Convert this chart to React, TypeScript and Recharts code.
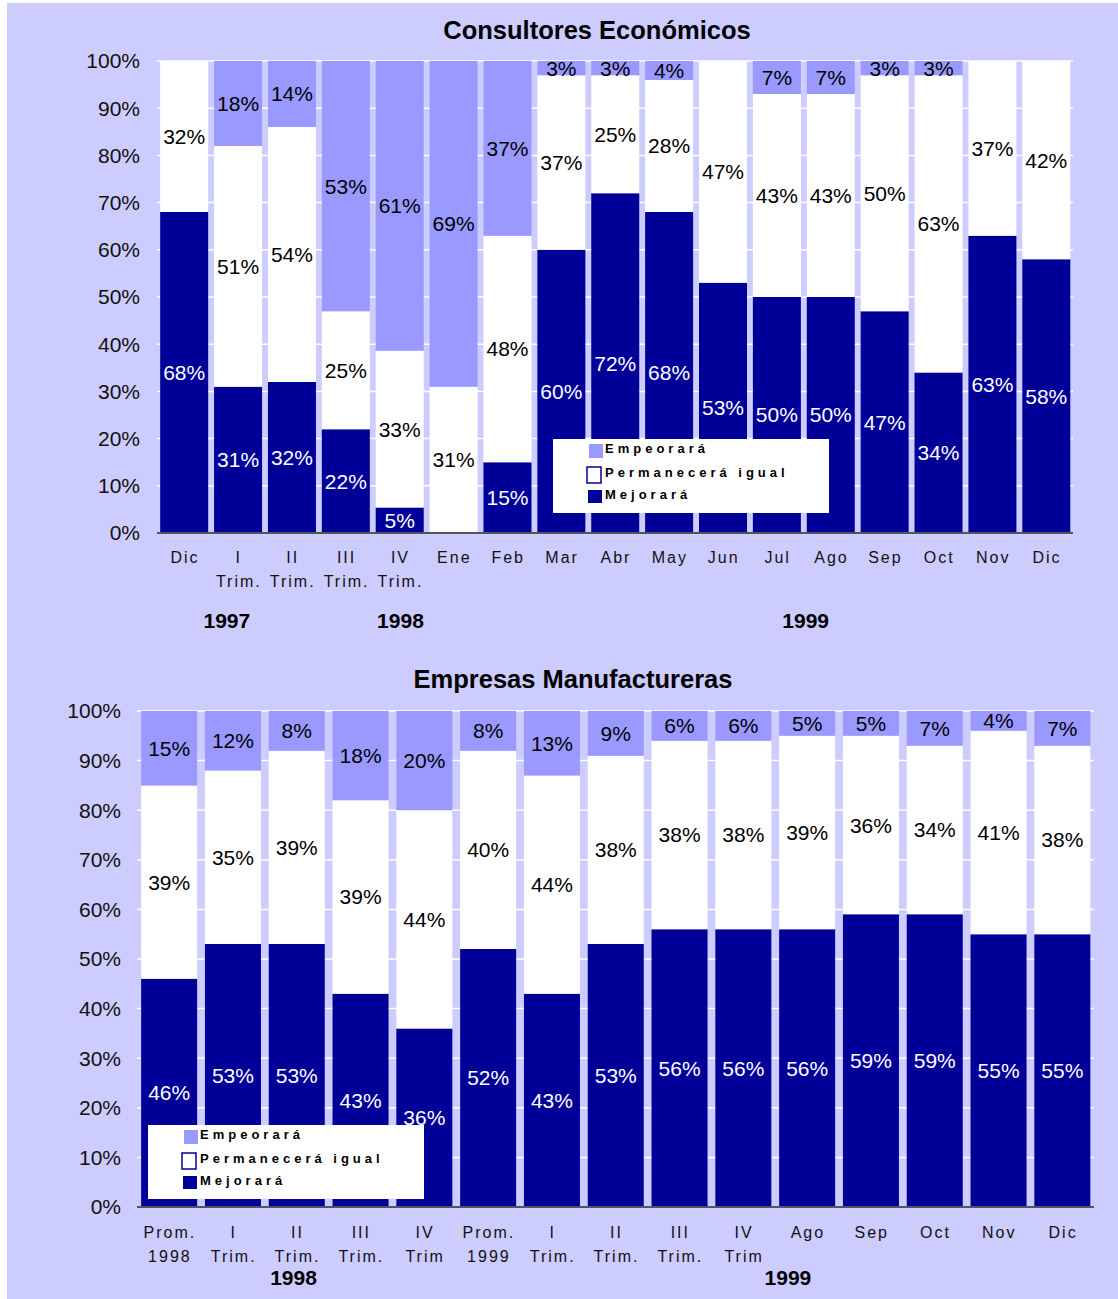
import React from 'react';
import { BarChart, Bar, XAxis, YAxis, CartesianGrid, LabelList } from 'recharts';

const FONT = '"Liberation Sans", Arial, Helvetica, sans-serif';
const NAVY = '#000099';
const LILAC = '#9999FF';
const WHITE = '#FFFFFF';
const BG = '#CCCCFF';

// ---------- data ----------
const seriesNames = ['Empeorará', 'Permanecerá igual', 'Mejorará'];

const consultoresTitle = 'Consultores Económicos';
const consultoresCategories = ['Dic', 'I\nTrim.', 'II\nTrim.', 'III\nTrim.', 'IV\nTrim.', 'Ene', 'Feb', 'Mar', 'Abr', 'May', 'Jun', 'Jul', 'Ago', 'Sep', 'Oct', 'Nov', 'Dic'];
const consultoresMejorara = [68, 31, 32, 22, 5.4, 0, 15, 60, 72, 68, 53, 50, 50, 47, 34, 63, 58];
const consultoresPermanecera = [32, 51, 54, 25, 33.2, 31, 48, 37, 25, 28, 47, 43, 43, 50, 63, 37, 42];
const consultoresEmpeorara = [0, 18, 14, 53, 61.4, 69, 37, 3, 3, 4, 0, 7, 7, 3, 3, 0, 0];
const consultoresYears = ['1997', '1998', '1999'];

const manufTitle = 'Empresas Manufactureras';
const manufCategories = ['Prom.\n1998', 'I\nTrim.', 'II\nTrim.', 'III\nTrim.', 'IV\nTrim', 'Prom.\n1999', 'I\nTrim.', 'II\nTrim.', 'III\nTrim.', 'IV\nTrim', 'Ago', 'Sep', 'Oct', 'Nov', 'Dic'];
const manufMejorara = [46, 53, 53, 43, 36, 52, 43, 53, 56, 56, 56, 59, 59, 55, 55];
const manufPermanecera = [39, 35, 39, 39, 44, 40, 44, 38, 38, 38, 39, 36, 34, 41, 38];
const manufEmpeorara = [15, 12, 8, 18, 20, 8, 13, 9, 6, 6, 5, 5, 7, 4, 7];
const manufYears = ['1998', '1999'];

const yTicks = [0, 10, 20, 30, 40, 50, 60, 70, 80, 90, 100];

// ---------- layout (positions only) ----------
const consultoresYearPos = [{ cat: 1, dx: -11 }, { cat: 4, dx: 1 }, { cat: 11, dx: 29 }];
const manufYearPos = [{ cat: 2, dx: -3 }, { cat: 10, dx: -19 }];

const buildData = (cats: string[], m: number[], p: number[], e: number[]) =>
  cats.map((c, i) => ({ key: String(i), m: m[i], p: p[i], e: e[i] }));

const consultoresData = buildData(consultoresCategories, consultoresMejorara, consultoresPermanecera, consultoresEmpeorara);
const manufData = buildData(manufCategories, manufMejorara, manufPermanecera, manufEmpeorara);

const fmt = (v: any) => (v ? `${Math.round(Number(v))}%` : '');

const makeTick = (
  labels: string[],
  years: string[],
  yearPos: { cat: number; dx: number }[],
  d1: number,
  d2: number,
  dYear: number
) => (props: any) => {
  const { x, y, payload } = props;
  const i = Number(payload.value);
  const lines = (labels[i] || '').split('\n');
  const yi = yearPos.findIndex((p) => p.cat === i);
  return (
    <g>
      {lines.map((l, k) => (
        <text
          key={k}
          x={x + 1}
          y={y + (k === 0 ? d1 : d2)}
          textAnchor="middle"
          fontFamily={FONT}
          fontSize={16}
          fill="#111"
          style={{ letterSpacing: '2px' }}
        >
          {l}
        </text>
      ))}
      {yi >= 0 && (
        <text
          x={x + yearPos[yi].dx}
          y={y + dYear}
          textAnchor="middle"
          fontFamily={FONT}
          fontSize={21}
          fontWeight="bold"
          fill="#000"
        >
          {years[yi]}
        </text>
      )}
    </g>
  );
};

const Legend = ({ x, y }: { x: number; y: number }) => {
  const colors = [LILAC, WHITE, NAVY];
  const swatches = [
    { dx: 36, dy: 5, w: 14, h: 14 },
    { dx: 34, dy: 28, w: 14, h: 16 },
    { dx: 35, dy: 51, w: 14, h: 13 },
  ];
  const baselines = [14, 38, 60];
  return (
    <g>
      <rect x={x} y={y} width={276} height={74} fill={WHITE} />
      {seriesNames.map((n, i) => (
        <g key={n}>
          <rect
            x={x + swatches[i].dx}
            y={y + swatches[i].dy}
            width={swatches[i].w}
            height={swatches[i].h}
            fill={colors[i]}
            stroke={i === 1 ? NAVY : 'none'}
            strokeWidth={1.5}
          />
          <text
            x={x + 52}
            y={y + baselines[i]}
            fontFamily={FONT}
            fontSize={13}
            fontWeight="bold"
            fill="#000"
            style={{ letterSpacing: '4px' }}
          >
            {n}
          </text>
        </g>
      ))}
    </g>
  );
};

const StackChart = ({
  data,
  width,
  height,
  margin,
  gap,
  tick,
  tickMarginY,
}: any) => (
  <BarChart width={width} height={height} data={data} margin={margin} barCategoryGap={gap}>
    <CartesianGrid horizontal vertical={false} stroke={WHITE} strokeWidth={1.5} />
    <XAxis
      dataKey="key"
      interval={0}
      tickLine={false}
      axisLine={{ stroke: '#555', strokeWidth: 2 }}
      tick={tick}
      height={80}
      tickMargin={2}
    />
    <YAxis
      domain={[0, 100]}
      ticks={yTicks}
      tickFormatter={(v: number) => `${v}%`}
      axisLine={false}
      tickLine={false}
      width={60}
      tickMargin={tickMarginY}
      tick={{ fontSize: 21, fontFamily: FONT, fill: '#111' }}
      allowDataOverflow
    />
    <Bar dataKey="m" stackId="a" fill={NAVY} isAnimationActive={false}>
      <LabelList dataKey="m" position="center" formatter={fmt} fill={WHITE} fontSize={21} fontFamily={FONT} />
    </Bar>
    <Bar dataKey="p" stackId="a" fill={WHITE} isAnimationActive={false}>
      <LabelList dataKey="p" position="center" formatter={fmt} fill="#000" fontSize={21} fontFamily={FONT} />
    </Bar>
    <Bar dataKey="e" stackId="a" fill={LILAC} isAnimationActive={false}>
      <LabelList dataKey="e" position="center" formatter={fmt} fill="#000" fontSize={21} fontFamily={FONT} />
    </Bar>
  </BarChart>
);

export default function App() {
  return (
    <div style={{ position: 'absolute', left: 0, top: 0, width: 1118, height: 1299, overflow: 'hidden', fontFamily: FONT }}>
      <div style={{ position: 'absolute', left: 7, top: 3, right: 0, bottom: 0, background: BG }} />
      <div style={{ position: 'absolute', left: 0, top: 0 }}>
        <StackChart
          data={consultoresData}
          width={1118}
          height={650}
          margin={{ top: 61, right: 45, bottom: 37, left: 97 }}
          gap="5.9%"
          tickMarginY={11}
          tick={makeTick(consultoresCategories, consultoresYears, consultoresYearPos, 22, 46, 87)}
        />
      </div>
      <div style={{ position: 'absolute', left: 0, top: 650 }}>
        <StackChart
          data={manufData}
          width={1118}
          height={649}
          margin={{ top: 61, right: 24, bottom: 12, left: 77 }}
          gap="6.5%"
          tickMarginY={10}
          tick={makeTick(manufCategories, manufYears, manufYearPos, 23, 47, 70)}
        />
      </div>
      <svg
        width={1118}
        height={1299}
        style={{ position: 'absolute', left: 0, top: 0, pointerEvents: 'none' }}
      >
        <text x={597} y={39} textAnchor="middle" fontFamily={FONT} fontSize={25.5} fontWeight="bold" fill="#000">
          {consultoresTitle}
        </text>
        <text x={573} y={688} textAnchor="middle" fontFamily={FONT} fontSize={25.5} fontWeight="bold" fill="#000">
          {manufTitle}
        </text>
        <Legend x={553} y={439} />
        <Legend x={148} y={1125} />
      </svg>
    </div>
  );
}
